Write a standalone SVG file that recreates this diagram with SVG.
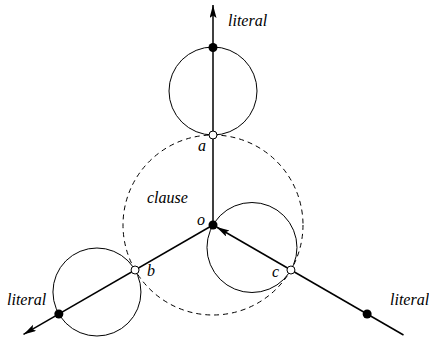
<svg xmlns="http://www.w3.org/2000/svg" width="429" height="340" viewBox="0 0 429 340">
<style>
.ray{stroke:#000;stroke-width:1.5;fill:none}
.circ{stroke:#000;stroke-width:1;fill:none}
.dash{stroke:#000;stroke-width:1;fill:none;stroke-dasharray:5 4}
.lab{font-family:"Liberation Serif",serif;font-style:italic;font-size:16px;fill:#000}
.pos{fill:#000}
.neg{fill:#fff;stroke:#000;stroke-width:1}
</style>
<defs>
<marker id="arr" markerUnits="userSpaceOnUse" markerWidth="14" markerHeight="8" refX="13" refY="3.5" orient="auto">
<path d="M0,0 L13,3.5 L0,7 L2.5,3.5 z" fill="#000"/>
</marker>
</defs>
<rect width="429" height="340" fill="#fff"/>
<g id="clause">
<circle class="dash" cx="213" cy="225" r="90"/>
<text class="lab" x="147" y="203">clause</text>
</g>
<g id="connectors">
<line class="ray" x1="213" y1="225" x2="213" y2="5" marker-end="url(#arr)"/>
<line class="ray" x1="213" y1="225" x2="23.5" y2="334.4" marker-end="url(#arr)"/>
<line class="ray" x1="403.5" y1="335" x2="216.5" y2="227" marker-end="url(#arr)"/>
</g>
<g id="literal-a">
<circle class="circ" cx="213" cy="91" r="44"/>
<circle class="pos" cx="213" cy="47.5" r="4.5"/>
<text class="lab" x="228" y="26">literal</text>
</g>
<g id="literal-b">
<circle class="circ" cx="96.95" cy="292" r="44"/>
<circle class="pos" cx="58.85" cy="314" r="4.5"/>
<text class="lab" x="7" y="305">literal</text>
</g>
<g id="literal-c">
<circle class="circ" cx="251.97" cy="247.5" r="45"/>
<circle class="pos" cx="367.15" cy="314" r="4.5"/>
<text class="lab" x="390" y="305">literal</text>
</g>
<g id="node-o">
<circle class="pos" cx="213" cy="225" r="4.5"/>
<text class="lab" x="197" y="225">o</text>
</g>
<g id="node-a">
<circle class="neg" cx="213" cy="135" r="4"/>
<text class="lab" x="198" y="151">a</text>
</g>
<g id="node-b">
<circle class="neg" cx="135.06" cy="270" r="4"/>
<text class="lab" x="147" y="276">b</text>
</g>
<g id="node-c">
<circle class="neg" cx="290.94" cy="270" r="4"/>
<text class="lab" x="272" y="277">c</text>
</g>
</svg>
